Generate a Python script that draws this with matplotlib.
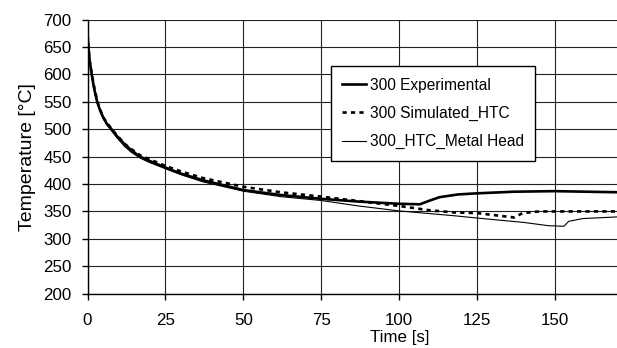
import numpy as np
import matplotlib
matplotlib.use("Agg")
import matplotlib.pyplot as plt

plt.rcParams['font.family'] = ['Liberation Sans', 'DejaVu Sans']

# Experimental curve
t_exp = [0, 0.3, 0.7, 1.35, 2.1, 3.1, 4, 5, 6.2, 7.7, 9.5, 12, 14, 16.8, 20,
         25, 30, 37, 50, 62, 75, 87, 100, 106.7, 110, 113, 119, 125, 137,
         150, 160, 170]
T_exp = [675, 650, 625, 600, 575, 550, 535, 522, 510, 500, 487, 472, 462,
         450, 442, 430, 419, 407, 389, 380, 373, 368, 364, 363, 370, 376,
         381, 383, 386, 387, 386, 385]

# Simulated HTC
t_sim = [0, 0.3, 0.7, 1.4, 2.2, 3.2, 4.1, 5, 6.3, 7.8, 9.6, 12, 14, 17, 20,
         25, 30, 37, 50, 62, 75, 87, 100, 110, 118, 125, 137, 139.7, 145,
         160, 170]
T_sim = [672, 648, 624, 600, 575, 550, 535, 522, 511, 500, 488, 473, 464,
         452, 445, 433, 423, 411, 395, 385, 377, 369, 360, 352, 348, 347,
         339, 347, 350, 350, 350]

# HTC with metal head
t_mh = [0, 0.3, 0.7, 1.3, 2.0, 3.0, 4, 5, 6.2, 7.6, 9.5, 12, 14, 17, 20,
        25, 30, 37, 50, 62, 75, 87, 100, 118, 125, 140, 148, 153, 154.5,
        159, 170]
T_mh = [668, 645, 622, 600, 575, 550, 534, 520, 508, 498, 484, 468, 458,
        447, 439, 428, 417, 404, 387, 377, 370, 360, 351, 342, 338, 330,
        324, 323, 332, 337, 340]

x_ticks = np.arange(0, 175, 25)
y_ticks = np.arange(200, 750, 50)

fig = plt.figure(figsize=(6.17, 3.48), dpi=100)
ax = fig.add_axes([87.5 / 617, 1 - 293.7 / 348, 1 - 87.5 / 617, (293.7 - 19.5) / 348])

ax.plot(t_exp, T_exp, color='black', lw=1.9, label='300 Experimental', zorder=4)
ax.plot(t_sim, T_sim, color='black', lw=1.9, dashes=(1.6, 1.6),
        label='300 Simulated_HTC', zorder=3)
ax.plot(t_mh, T_mh, color='black', lw=0.8, label='300_HTC_Metal Head', zorder=3)

ax.set_xlim(0, 170)
ax.set_ylim(200, 700)
ax.set_xticks(x_ticks)
ax.set_yticks(y_ticks)
ax.grid(True, color='#222222', lw=0.8)
ax.set_axisbelow(True)
for s in ['top', 'right']:
    ax.spines[s].set_visible(False)
ax.spines['left'].set_linewidth(1.0)
ax.spines['bottom'].set_linewidth(1.0)
ax.tick_params(axis='both', direction='out', length=4.5, width=1.0,
               labelsize=12.2, color='black')
ax.tick_params(axis='x', pad=9.5)
ax.tick_params(axis='y', pad=7)

ax.set_xlabel('Time [s]', fontsize=12.2)
ax.xaxis.set_label_coords(0.59, -0.132)
ax.set_ylabel('Temperature [°C]', fontsize=14)
ax.yaxis.set_label_coords(-0.097, 0.5)

leg = ax.legend(loc='upper left', bbox_to_anchor=(330.7 / 617, 1 - 66 / 348),
                bbox_transform=fig.transFigure, fontsize=11.2, frameon=True,
                fancybox=False, edgecolor='black', framealpha=1,
                handlelength=1.5, handletextpad=0.25, labelspacing=0.85,
                borderpad=0.75, borderaxespad=0)
leg.get_frame().set_linewidth(1.0)

fig.savefig('out.png', dpi=100)
